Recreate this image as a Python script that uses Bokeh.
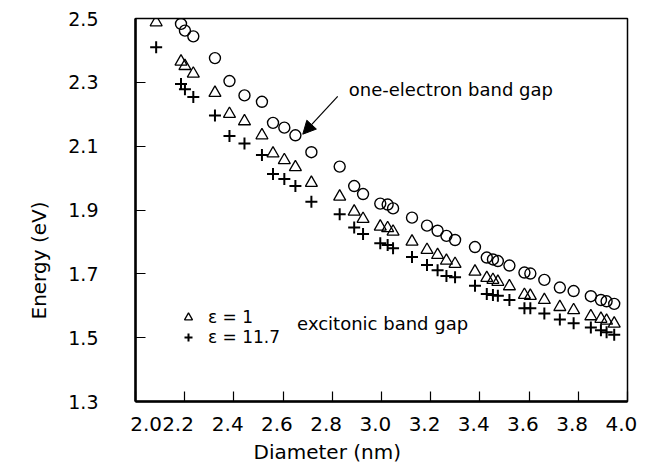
from bokeh.plotting import figure
from bokeh.layouts import column
from bokeh.models import (Range1d, FixedTicker, Label, Arrow, NormalHead, Legend,
                          LegendItem, LinearAxis, Title)
from bokeh.embed import file_html
from bokeh.resources import INLINE

# ---- data ----
diameter = [2.084, 2.185, 2.201, 2.235, 2.323, 2.382, 2.443, 2.514, 2.559, 2.605, 2.650,
            2.715, 2.830, 2.889, 2.925, 2.995, 3.025, 3.047, 3.124, 3.185, 3.228, 3.264,
            3.299, 3.380, 3.428, 3.453, 3.473, 3.520, 3.581, 3.605, 3.662, 3.725, 3.781,
            3.851, 3.892, 3.915, 3.946]
# one-electron band gap (first diameter lies above the plotted range)
one_electron_diam = diameter[1:]
one_electron = [2.483, 2.462, 2.444, 2.376, 2.304, 2.259, 2.239, 2.173, 2.158, 2.134,
                2.081, 2.036, 1.975, 1.950, 1.920, 1.917, 1.905, 1.876, 1.851, 1.835,
                1.819, 1.806, 1.784, 1.751, 1.745, 1.740, 1.726, 1.704, 1.701, 1.681,
                1.657, 1.646, 1.630, 1.618, 1.614, 1.606]
excitonic_eps1 = [2.488, 2.365, 2.351, 2.327, 2.267, 2.201, 2.178, 2.134, 2.077, 2.056,
                  2.034, 1.985, 1.942, 1.895, 1.872, 1.848, 1.843, 1.832, 1.801, 1.775,
                  1.759, 1.741, 1.731, 1.707, 1.687, 1.681, 1.675, 1.661, 1.634, 1.631,
                  1.618, 1.596, 1.586, 1.567, 1.559, 1.553, 1.544]
excitonic_eps117 = [2.410, 2.295, 2.278, 2.254, 2.196, 2.132, 2.108, 2.072, 2.013, 1.997,
                    1.975, 1.926, 1.887, 1.845, 1.825, 1.796, 1.790, 1.780, 1.753, 1.728,
                    1.711, 1.693, 1.689, 1.663, 1.637, 1.634, 1.631, 1.618, 1.592, 1.592,
                    1.576, 1.557, 1.545, 1.532, 1.523, 1.517, 1.509]

x_ticks = [2.0, 2.2, 2.4, 2.6, 2.8, 3.0, 3.2, 3.4, 3.6, 3.8, 4.0]
y_ticks = [1.3, 1.5, 1.7, 1.9, 2.1, 2.3, 2.5]
x_title = "Diameter (nm)"
y_title = "Energy (eV)"
legend_labels = ["ε = 1", "ε = 11.7"]
note_one = "one-electron band gap"
note_exc = "excitonic band gap"

FONT = "DejaVu Sans"
X0, X1 = x_ticks[0], x_ticks[-1]
Y0, Y1 = y_ticks[0], y_ticks[-1]

fig = figure(width=647, height=467, output_backend="svg", toolbar_location=None,
             x_range=Range1d(X0, X1), y_range=Range1d(Y0, Y1),
             min_border_left=135, min_border_right=20, min_border_top=18,
             min_border_bottom=65)
fig.background_fill_color = "white"
fig.border_fill_color = "white"
fig.outline_line_color = "black"
fig.outline_line_width = 1.5
fig.xgrid.visible = False
fig.ygrid.visible = False

for ax in (fig.xaxis[0], fig.yaxis[0]):
    ax.axis_line_width = 2.5
    ax.axis_line_color = "black"
    ax.major_tick_in = 10
    ax.major_tick_out = 0
    ax.major_tick_line_color = "black"
    ax.major_tick_line_width = 1.2
    ax.major_label_text_font = FONT
    ax.major_label_text_color = "black"

# main x axis: tick marks only (labels are set on a second axis below)
fig.xaxis.ticker = FixedTicker(ticks=x_ticks)
fig.xaxis.major_label_overrides = {t: "" for t in x_ticks}
fig.xaxis.major_label_standoff = 0
fig.xaxis.major_label_text_font_size = "1px"

# x tick labels, slightly left of their ticks and crowded at the start, as printed
label_pos = []
for i, t in enumerate(x_ticks):
    if i == 0:
        label_pos.append(t + 0.043)
    elif i == 1:
        label_pos.append(t - 0.027)
    else:
        label_pos.append(t - 0.025)
xlab_axis = LinearAxis(ticker=FixedTicker(ticks=label_pos),
                       major_label_overrides={pos: f"{t:.1f}" for pos, t in zip(label_pos, x_ticks)},
                       axis_line_color=None, major_tick_line_color=None,
                       minor_tick_line_color=None, major_label_standoff=9,
                       major_label_text_font=FONT, major_label_text_font_size="20px",
                       major_label_text_color="black")
fig.add_layout(xlab_axis, "below")

fig.yaxis.ticker = FixedTicker(ticks=y_ticks)
fig.yaxis.major_label_overrides = {t: f"{t:.1f}" for t in y_ticks}
fig.yaxis.major_label_text_font_size = "19px"
fig.yaxis.major_label_standoff = 37

# axis titles (placed off-centre as in the reference)
fig.add_layout(Title(text=x_title, align="left", offset=118, standoff=8,
                     text_font=FONT, text_font_size="20px", text_font_style="normal",
                     text_color="black"), "below")
fig.add_layout(Title(text=y_title, align="left", offset=82, standoff=30,
                     text_font=FONT, text_font_size="20px", text_font_style="normal",
                     text_color="black"), "left")

# data
r_one = fig.scatter(one_electron_diam, one_electron, marker="circle", size=11,
                    fill_color=None, line_color="black", line_width=1.4)
r_e1 = fig.scatter(diameter, excitonic_eps1, marker="triangle", size=12,
                   fill_color=None, line_color="black", line_width=1.3)
r_e117 = fig.scatter(diameter, excitonic_eps117, marker="cross", size=12,
                     line_color="black", line_width=2)

legend = Legend(items=[LegendItem(label=legend_labels[0], renderers=[r_e1]),
                       LegendItem(label=legend_labels[1], renderers=[r_e117])],
                location=(43, 54), border_line_color=None, background_fill_alpha=0,
                padding=0, margin=0, spacing=0, label_height=20, glyph_height=20,
                glyph_width=20, label_standoff=10, label_text_font=FONT,
                label_text_font_size="17px", label_text_color="black")
fig.add_layout(legend)

# annotations
fig.add_layout(Label(x=2.867, y=2.276, text=note_one, text_baseline="middle",
                     text_font=FONT, text_font_size="18px", text_color="black"))
fig.add_layout(Label(x=2.657, y=1.543, text=note_exc, text_baseline="middle",
                     text_font=FONT, text_font_size="18px", text_color="black"))
fig.add_layout(Arrow(end=NormalHead(size=13, fill_color="black", line_color="black"),
                     x_start=2.822, y_start=2.256, x_end=2.680, y_end=2.1375,
                     line_color="black", line_width=1.2))

p = column(fig)
open("out.html", "w").write(file_html(p, INLINE))
